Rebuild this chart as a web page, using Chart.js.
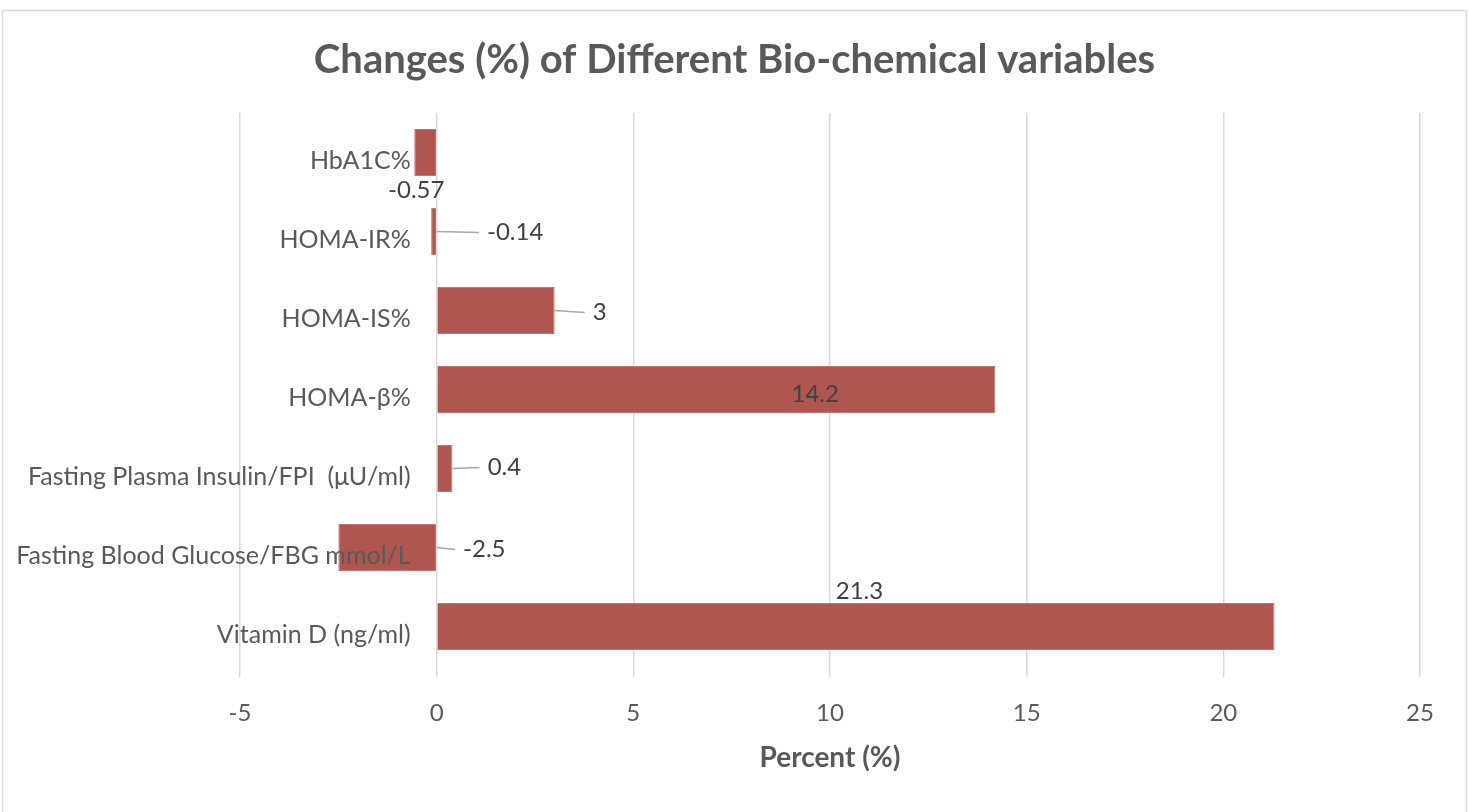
<!DOCTYPE html>
<html>
<head>
<meta charset="utf-8">
<script src="https://cdn.jsdelivr.net/npm/chart.js@4.4.0/dist/chart.umd.min.js"></script>
<style>
  html, body { margin: 0; padding: 0; background: #fff; }
  #wrap { width: 1469px; height: 812px; position: relative; }
</style>
</head>
<body>
<div id="wrap"><canvas id="changesChart"></canvas></div>
<script>
// values, top to bottom
const categories = [
    'HbA1C%',
    'HOMA-IR%',
    'HOMA-IS%',
    'HOMA-β%',
    'Fasting Plasma Insulin/FPI  (μU/ml)',
    'Fasting Blood Glucose/FBG mmol/L',
    'Vitamin D (ng/ml)'
];
const changes = [-0.57, -0.14, 3, 14.2, 0.4, -2.5, 21.3];
const valueLabels = ['-0.57', '-0.14', '3', '14.2', '0.4', '-2.5', '21.3'];
const xTicks = [-5, 0, 5, 10, 15, 20, 25];

// label placement relative to the bar end: [dx, dy, leader line?]
// (the Excel labels were dragged around by hand)
const labelOffsets = [
    [2, 38, false],
    [84, 1, true],
    [45, 2, true],
    [-180, 5, false],
    [52, -1, true],
    [146, 2, true],
    [-415, -35, false]
];

const FONT = 'Lato, "Open Sans", sans-serif';

// white background + light frame like the Excel chart box
const frame = {
    id: 'frame',
    beforeDraw(chart) {
        const ctx = chart.ctx;
        ctx.save();
        ctx.fillStyle = '#fff';
        ctx.fillRect(0, 0, chart.width, chart.height);
        ctx.strokeStyle = '#D9D9D9';
        ctx.lineWidth = 1.5;
        ctx.strokeRect(2.5, 10.5, chart.width - 5, chart.height);
        ctx.restore();
    }
};

// category names sit next to the zero axis, value labels with leader lines
const barLabels = {
    id: 'barLabels',
    afterDatasetsDraw(chart) {
        const ctx = chart.ctx;
        const meta = chart.getDatasetMeta(0);
        const x0 = chart.scales.x.getPixelForValue(0);
        ctx.save();
        ctx.textBaseline = 'middle';

        ctx.font = '25px ' + FONT;
        ctx.fillStyle = '#595959';
        ctx.textAlign = 'right';
        categories.forEach((c, i) => {
            ctx.fillText(c, x0 - 26, chart.scales.y.getPixelForTick(i) + 8);
        });

        ctx.font = '24px ' + FONT;
        ctx.textAlign = 'center';
        meta.data.forEach((bar, i) => {
            const [dx, dy, leader] = labelOffsets[i];
            const tx = bar.x + dx;
            const ty = bar.y + dy;
            if (leader) {
                const w = ctx.measureText(valueLabels[i]).width;
                ctx.strokeStyle = '#A6A6A6';
                ctx.lineWidth = 1.5;
                ctx.beginPath();
                ctx.moveTo(Math.max(bar.x, x0), bar.y);
                ctx.lineTo(tx - w / 2 - 8, ty);
                ctx.stroke();
            }
            ctx.fillStyle = '#404040';
            ctx.fillText(valueLabels[i], tx, ty);
        });
        ctx.restore();
    }
};

const ctx = document.getElementById('changesChart').getContext('2d');
const changesChart = new Chart(ctx, {
    type: 'bar',
    data: {
        labels: categories,
        datasets: [{
            data: changes,
            backgroundColor: '#B05650',
            borderColor: '#C27470',
            borderWidth: 1,
            barPercentage: 0.594,
            categoryPercentage: 1
        }]
    },
    options: {
        indexAxis: 'y',
        responsive: true,
        maintainAspectRatio: false,
        animation: false,
        layout: { padding: 0 },
        plugins: {
            legend: { display: false },
            tooltip: { enabled: false },
            title: {
                display: true,
                text: 'Changes (%) of Different Bio-chemical variables',
                color: '#595959',
                font: { family: FONT, size: 40, weight: 'bold' },
                padding: { top: 36, bottom: 29 }
            }
        },
        scales: {
            x: {
                min: -5,
                max: 25,
                afterBuildTicks(s) { s.ticks = xTicks.map(v => ({ value: v })); },
                afterFit(s) { s.height = 146; },
                ticks: { color: '#595959', font: { family: FONT, size: 24 }, padding: 22 },
                grid: { color: '#D9D9D9', lineWidth: 1.5, tickLength: 11 },
                border: { display: false },
                title: {
                    display: true,
                    text: 'Percent (%)',
                    color: '#595959',
                    font: { family: FONT, size: 28, weight: 'bold' },
                    padding: { top: 0, bottom: 37 }
                }
            },
            y: {
                afterFit(s) { s.width = 240; },
                ticks: { display: false },
                grid: { display: false },
                border: { display: false }
            },
            // empty spacer on the right so the title stays centred on the page
            spacer: {
                type: 'linear',
                position: 'right',
                afterFit(s) { s.width = 49; },
                ticks: { display: false },
                grid: { display: false },
                border: { display: false }
            }
        }
    },
    plugins: [frame, barLabels]
});
</script>
</body>
</html>
